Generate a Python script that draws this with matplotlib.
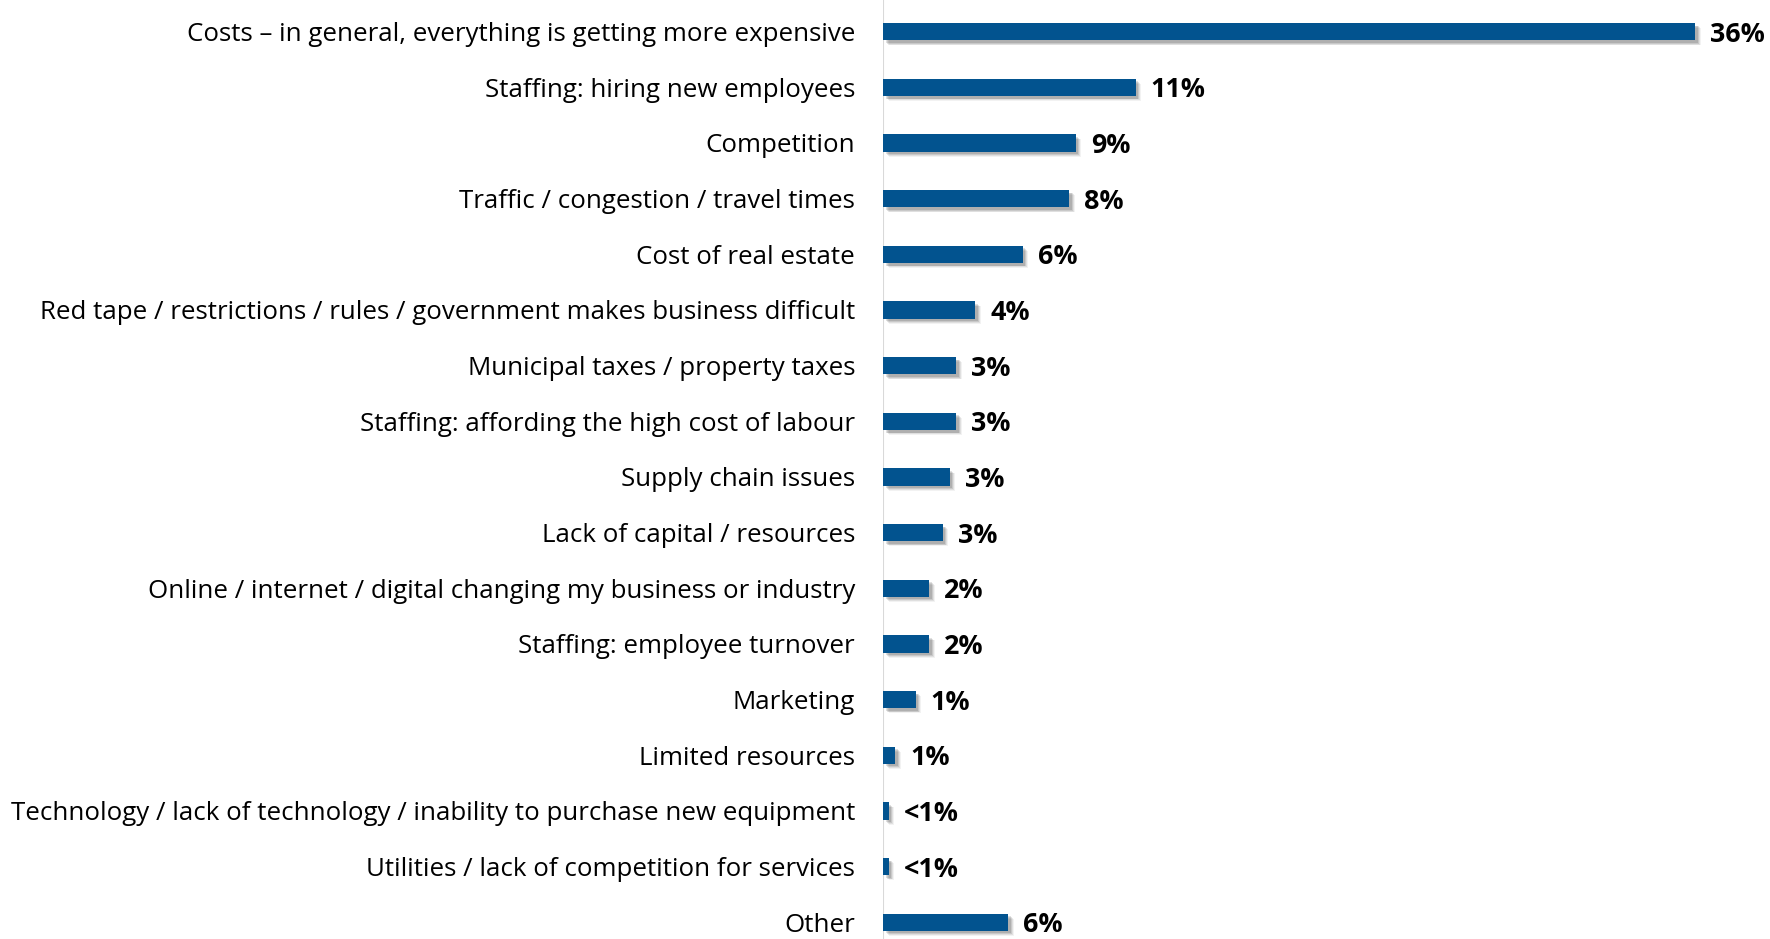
import matplotlib
matplotlib.use("Agg")
import matplotlib.pyplot as plt
import matplotlib.patheffects as pe
import matplotlib.transforms as mtransforms
from matplotlib.textpath import TextPath
from matplotlib.font_manager import FontProperties

categories = [
    "Costs \u2013 in general, everything is getting more expensive",
    "Staffing: hiring new employees",
    "Competition",
    "Traffic / congestion / travel times",
    "Cost of real estate",
    "Red tape / restrictions / rules / government makes business difficult",
    "Municipal taxes / property taxes",
    "Staffing: affording the high cost of labour",
    "Supply chain issues",
    "Lack of capital / resources",
    "Online / internet / digital changing my business or industry",
    "Staffing: employee turnover",
    "Marketing",
    "Limited resources",
    "Technology / lack of technology / inability to purchase new equipment",
    "Utilities / lack of competition for services",
    "Other",
]
values = [36.0, 11.2, 8.55, 8.25, 6.2, 4.1, 3.25, 3.25, 2.95, 2.65, 2.05, 2.05, 1.45, 0.55, 0.25, 0.25, 5.55]
value_labels = ["36%", "11%", "9%", "8%", "6%", "4%", "3%", "3%", "3%", "3%", "2%", "2%", "1%", "1%", "<1%", "<1%", "6%"]

FONT = "Open Sans"
W, H = 1770, 939
DPI = 100

# fit font size so the longest category label spans ~841 px
fp = FontProperties(family=FONT, size=10)
w10 = TextPath((0, 0), categories[14], prop=fp).get_extents().width * DPI / 72.0
cat_size = 10 * 841.0 / w10
fpb = FontProperties(family=FONT, size=10, weight="bold")
wb10 = TextPath((0, 0), "36%", prop=fpb).get_extents().width * DPI / 72.0
val_size = 10 * 53.0 / wb10

fig = plt.figure(figsize=(W / DPI, H / DPI), dpi=DPI)
ax_left = 883 / W
ax = fig.add_axes([ax_left, 0, 1 - ax_left, 1])

px_per_unit = (1695 - 883) / 36.0
xmax = (W - 883) / px_per_unit
row = 55.66
top_c = 31.6
ax.set_xlim(0, xmax)
ax.set_ylim(16 + (H - 922.2) / row, -top_c / row)

bar_color = "#02538F"
ys = list(range(len(categories)))
bars = ax.barh(ys, values, height=0.31, color=bar_color, zorder=3)
for b in bars:
    b.set_path_effects([
        pe.SimplePatchShadow(offset=(4.0, -3.6), shadow_rgbFace="#000000", alpha=0.05),
        pe.SimplePatchShadow(offset=(3.3, -3.1), shadow_rgbFace="#000000", alpha=0.08),
        pe.SimplePatchShadow(offset=(2.6, -2.5), shadow_rgbFace="#000000", alpha=0.10),
        pe.SimplePatchShadow(offset=(1.9, -1.9), shadow_rgbFace="#000000", alpha=0.12),
        pe.Normal(),
    ])

shift = mtransforms.ScaledTranslation(0, -3.0 / DPI, fig.dpi_scale_trans)
for y, v, lab in zip(ys, values, value_labels):
    ax.text(v + 15 / px_per_unit, y, lab, ha="left", va="center",
            fontsize=val_size, fontweight="bold", family=FONT, color="#000000",
            zorder=4, transform=ax.transData + shift)

ax.axvline(0, color="#D9D9D9", lw=1.5, zorder=2)

ax.set_yticks(ys)
ax.set_yticklabels(categories, fontsize=cat_size, family=FONT, color="#000000")
ax.tick_params(axis="y", length=0, pad=28 * 72 / DPI)
ax.set_xticks([])
for s in ax.spines.values():
    s.set_visible(False)

fig.savefig("out.png", dpi=DPI, facecolor="white")
